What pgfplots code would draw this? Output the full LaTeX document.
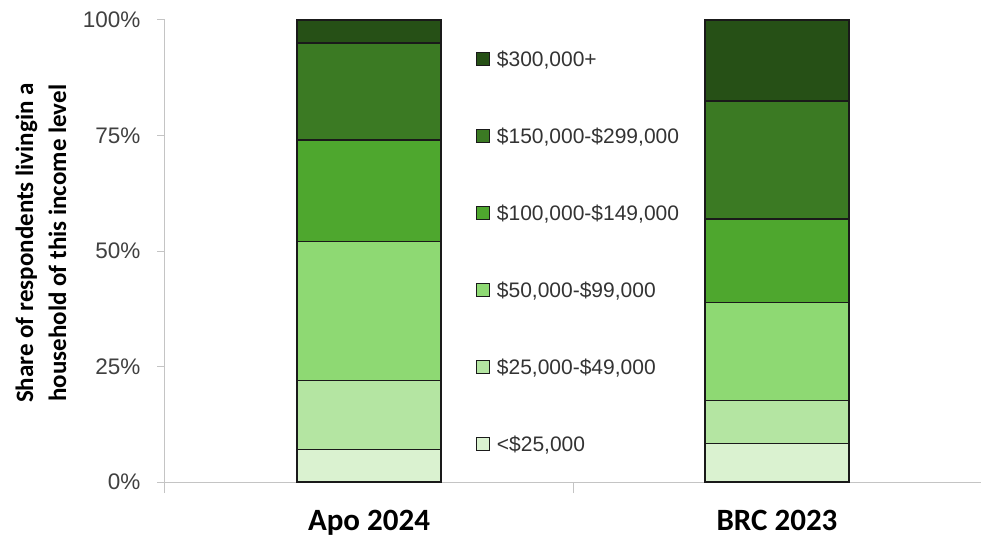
\documentclass[border=0pt]{standalone}
\usepackage{pgfplots}
\pgfplotsset{compat=1.18}
\usepackage{fontspec}
\setmainfont{Liberation Sans}
\newfontfamily\carlito{Carlito}
\definecolor{c1}{HTML}{DAF2D0}
\definecolor{c2}{HTML}{B4E5A2}
\definecolor{c3}{HTML}{8ED973}
\definecolor{c4}{HTML}{4EA72E}
\definecolor{c5}{HTML}{3B7A23}
\definecolor{c6}{HTML}{265016}
\definecolor{axisgray}{HTML}{C4C4C4}
\definecolor{tickgray}{HTML}{404040}
\definecolor{legendgray}{HTML}{333333}
\definecolor{barline}{HTML}{1A1A1A}
\begin{document}
\begin{tikzpicture}
\begin{axis}[
  at={(0,0)}, anchor=south west,
  scale only axis, width=816pt, height=462pt,
  ybar stacked, bar width=0.353,
  xmin=-0.5, xmax=1.5, ymin=0, ymax=100,
  xtick={0,1}, xticklabels={Apo 2024, BRC 2023},
  minor xtick={-0.5,0.5,1.5},
  ytick={0,25,50,75,100}, yticklabels={0\%,25\%,50\%,75\%,100\%},
  axis lines*=left,
  axis line style={-, draw=axisgray, line width=1pt},
  tick align=outside,
  major tick length=8pt, minor tick length=11pt,
  major x tick style={draw=none},
  minor x tick style={draw=axisgray, line width=1pt},
  y tick style={draw=axisgray, line width=1pt},
  yticklabel style={font=\fontsize{22.5}{27}\selectfont, text=tickgray, xshift=-13pt},
  xticklabel style={font=\carlito\bfseries\fontsize{31}{37}\selectfont, text=black, yshift=-17pt},
  ylabel={Share of respondents livingin a\\household of this income level},
  ylabel style={at={(axis description cs:-0.152,0.517)}, anchor=center, align=center,
    font=\carlito\bfseries\fontsize{25}{33}\selectfont, text=black},
  every axis plot/.append style={draw=barline, line width=1.3pt},
  legend style={at={(0.381,0.938)}, anchor=north west, draw=none, fill=none,
    inner sep=0pt, outer sep=0pt, row sep=56pt, column sep=5pt,
    font=\fontsize{21}{25}\selectfont, text=legendgray},
  legend image code/.code={\draw[#1, draw=barline, line width=1pt] (0pt,-6.5pt) rectangle (13pt,6.5pt);},
  legend cell align=left,
  reverse legend,
]
\addplot[fill=c1] coordinates {(0,7) (1,8.4)};
\addlegendentry{<\$25,000}
\addplot[fill=c2] coordinates {(0,15) (1,9.3)};
\addlegendentry{\$25,000-\$49,000}
\addplot[fill=c3] coordinates {(0,30) (1,21.2)};
\addlegendentry{\$50,000-\$99,000}
\addplot[fill=c4] coordinates {(0,22) (1,18)};
\addlegendentry{\$100,000-\$149,000}
\addplot[fill=c5] coordinates {(0,21) (1,25.6)};
\addlegendentry{\$150,000-\$299,000}
\addplot[fill=c6] coordinates {(0,5) (1,17.5)};
\addlegendentry{\$300,000+}
\end{axis}
\pgfresetboundingbox
\path[use as bounding box] (-165pt,-57pt) rectangle (816pt,482pt);
\end{tikzpicture}
\end{document}
